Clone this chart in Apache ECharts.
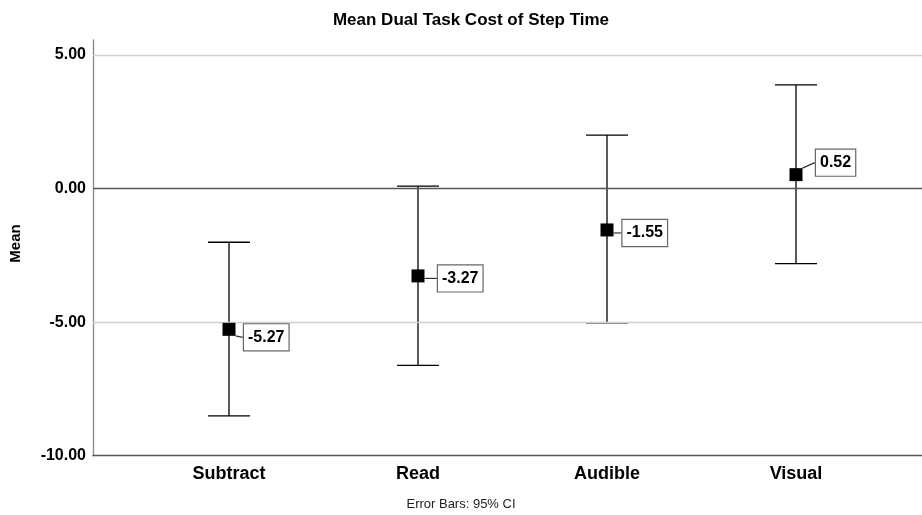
<!DOCTYPE html>
<html>
<head>
<meta charset="utf-8">
<script src="https://cdn.jsdelivr.net/npm/echarts@6/dist/echarts.min.js"></script>
<style>html,body{margin:0;padding:0;background:#fff}#c{width:922px;height:515px}</style>
</head>
<body>
<div id="c"></div>
<script>
const categories = ['Subtract', 'Read', 'Audible', 'Visual'];
const means = [-5.27, -3.27, -1.55, 0.52];
const ciLower = [-8.51, -6.62, -5.03, -2.81];
const ciUpper = [-2.01, 0.09, 2.00, 3.88];
const gridTicks = [5, -5];
const zeroLine = 0;

const FONT = "'Liberation Sans', Arial, sans-serif";
const labelShift = [[8.5, 8], [13.5, 2.5], [9, 3], [13.5, -12]];

const chart = echarts.init(document.getElementById('c'));
const Y_MIN = -10, Y_MAX = 5.56;
const GRID_TOP = 40, GRID_BOTTOM = 59.3;

chart.setOption({
  animation: false,
  title: {
    text: 'Mean Dual Task Cost of Step Time',
    left: 466, top: 7, textAlign: 'center',
    textStyle: { fontFamily: FONT, fontSize: 17, fontWeight: 'bold', color: '#000' }
  },
  graphic: [
    { type: 'text', left: 'center', top: 498,
      style: { text: 'Error Bars: 95% CI', font: "13px 'Liberation Sans', Arial", fill: '#222' } },
    { type: 'text', x: 15.5, y: 243.5, rotation: Math.PI / 2,
      style: { text: 'Mean', font: "bold 15px 'Liberation Sans', Arial", fill: '#000', align: 'center', verticalAlign: 'middle' } }
  ],
  grid: [
    { left: 93, right: 0, top: GRID_TOP, bottom: GRID_BOTTOM, outerBoundsMode: 'none', containLabel: false },
    { left: 134.5, width: 756, top: GRID_TOP, bottom: GRID_BOTTOM, outerBoundsMode: 'none', containLabel: false }
  ],
  xAxis: [
    { gridIndex: 0, type: 'value', min: 0, max: 1, axisLabel: { show: false }, axisTick: { show: false },
      splitLine: { show: false }, axisLine: { show: true, onZero: false, lineStyle: { color: '#555', width: 1.3 } } },
    { gridIndex: 1, type: 'category', data: categories, boundaryGap: true,
      axisLine: { show: false }, axisTick: { show: false },
      axisLabel: { fontFamily: FONT, fontSize: 18, fontWeight: 'bold', color: '#000', margin: 9 } }
  ],
  yAxis: [
    { gridIndex: 0, type: 'value', min: Y_MIN, max: Y_MAX, interval: 5,
      axisLine: { show: true, lineStyle: { color: '#888', width: 1.3 } },
      axisTick: { show: false }, splitLine: { show: false },
      axisLabel: { fontFamily: FONT, fontSize: 16, fontWeight: 'bold', color: '#000', margin: 7,
        formatter: v => (Math.abs(v % 5) < 1e-9 ? v.toFixed(2) : '') } },
    { gridIndex: 1, type: 'value', min: Y_MIN, max: Y_MAX, interval: 5, show: false }
  ],
  series: [
    {
      type: 'line', xAxisIndex: 0, yAxisIndex: 0, data: [], silent: true,
      markLine: {
        silent: true, symbol: 'none', label: { show: false }, animation: false,
        data: gridTicks.map(v => ({ yAxis: v, lineStyle: { color: '#cfcfcf', width: 1.3, type: 'solid' } }))
          .concat([{ yAxis: zeroLine, lineStyle: { color: '#555', width: 1.3, type: 'solid' } }])
      }
    },
    {
      type: 'custom', xAxisIndex: 1, yAxisIndex: 1, z: 3,
      data: categories.map((c, i) => [i, ciLower[i], ciUpper[i]]),
      renderItem: function (params, api) {
        const x = api.value(0);
        const lo = api.coord([x, api.value(1)]);
        const hi = api.coord([x, api.value(2)]);
        const hw = 21;
        const st = { stroke: '#000', lineWidth: 1.3 };
        return {
          type: 'group',
          children: [
            { type: 'line', shape: { x1: lo[0], y1: lo[1], x2: hi[0], y2: hi[1] }, style: st },
            { type: 'line', shape: { x1: lo[0] - hw, y1: lo[1], x2: lo[0] + hw, y2: lo[1] }, style: st },
            { type: 'line', shape: { x1: hi[0] - hw, y1: hi[1], x2: hi[0] + hw, y2: hi[1] }, style: st }
          ]
        };
      }
    },
    {
      type: 'scatter', xAxisIndex: 1, yAxisIndex: 1, z: 5,
      symbol: 'rect', symbolSize: 13,
      itemStyle: { color: '#000', opacity: 1 },
      data: means.map((m, i) => [i, m]),
      label: {
        show: true, position: 'right', distance: 0,
        formatter: p => p.value[1].toFixed(2),
        fontFamily: FONT, fontSize: 16, fontWeight: 'bold', color: '#000',
        backgroundColor: '#fff', borderColor: '#666', borderWidth: 1.2,
        padding: [5, 4, 4, 4], lineHeight: 17
      },
      labelLine: { show: true, lineStyle: { color: '#333', width: 1.2 } },
      labelLayout: function (p) {
        const s = labelShift[p.dataIndex];
        return { dx: s[0], dy: s[1] };
      }
    }
  ]
});
</script>
</body>
</html>
